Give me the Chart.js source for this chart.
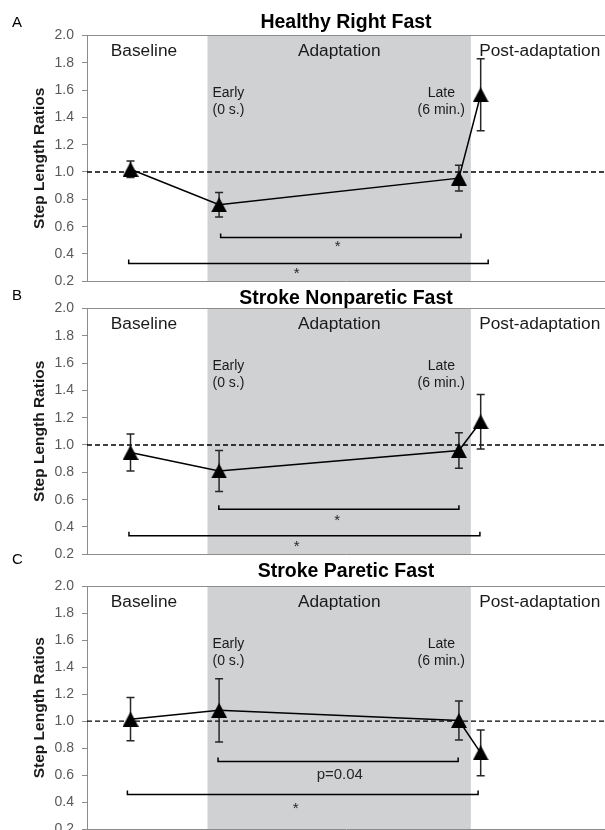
<!DOCTYPE html>
<html>
<head>
<meta charset="utf-8">
<script src="https://cdn.jsdelivr.net/npm/chart.js@4.4.0/dist/chart.umd.min.js"></script>
<style>
  html, body { margin: 0; padding: 0; background: #fff; }
  body { width: 605px; height: 830px; overflow: hidden; position: relative; }
  .panel { position: absolute; left: 0; width: 605px; height: 300px; }
  canvas { display: block; }
</style>
</head>
<body>
<div class="panel" style="top:0px"><canvas id="chartA" width="605" height="300"></canvas></div>
<div class="panel" style="top:273px"><canvas id="chartB" width="605" height="300"></canvas></div>
<div class="panel" style="top:551px"><canvas id="chartC" width="605" height="300"></canvas></div>
<script>
// ---------------- data ----------------
const panelLetters = ['A', 'B', 'C'];
const panelTitles = ['Healthy Right Fast', 'Stroke Nonparetic Fast', 'Stroke Paretic Fast'];
const yAxisTitle = 'Step Length Ratios';
const phaseLabels = ['Baseline', 'Adaptation', 'Post-adaptation'];
const phaseLabelX = [11, 48.7, 87.4];
const adaptationSpan = [23.26, 74.1];
const earlyLabel = ['Early', '(0 s.)'];
const lateLabel = ['Late', '(6 min.)'];
const earlyLabelX = 27.3;
const lateLabelX = 68.4;
const conditions = ['Baseline', 'Early', 'Late', 'Post'];
const conditionX = [8.4, 25.5, 71.8, 76.0];
const referenceRatio = 1.0;
const yMin = 0.2, yMax = 2.0, yStep = 0.2;

const healthyMean = [1.02, 0.76, 0.955, 1.565];
const healthyErr = [0.06, 0.09, 0.095, 0.263];
const nonpareticMean = [0.945, 0.81, 0.96, 1.17];
const nonpareticErr = [0.135, 0.15, 0.13, 0.2];
const pareticMean = [1.015, 1.08, 1.005, 0.765];
const pareticErr = [0.16, 0.235, 0.145, 0.17];

// brackets: [from x, to x, y]
const healthyBrackets = [[25.8, 72.2, 0.52], [8.05, 77.45, 0.33]];
const nonpareticBrackets = [[25.45, 71.8, 0.53], [8.1, 75.85, 0.335]];
const pareticBrackets = [[25.3, 71.65, 0.70], [7.8, 75.5, 0.455]];
// bracket labels: [text, x, y]
const healthyBracketLabels = [['*', 48.4, 0.48], ['*', 40.5, 0.28]];
const nonpareticBracketLabels = [['*', 48.3, 0.47], ['*', 40.5, 0.28]];
const pareticBracketLabels = [['p=0.04', 48.8, 0.61], ['*', 40.3, 0.38]];

// ---------------- drawing ----------------
const FONT = '"Liberation Sans", Arial, Helvetica, sans-serif';

const triangleMarker = (() => {
  const c = document.createElement('canvas');
  c.width = 16; c.height = 15;
  const g = c.getContext('2d');
  g.fillStyle = '#000';
  g.beginPath();
  g.moveTo(8, 0); g.lineTo(16, 15); g.lineTo(0, 15); g.closePath();
  g.fill();
  return c;
})();

const stepAnnot = {
  id: 'stepAnnot',
  beforeDraw(chart, args, o) {
    const { ctx, chartArea: a, scales: { x } } = chart;
    ctx.save();
    const x0 = x.getPixelForValue(adaptationSpan[0]);
    const x1 = x.getPixelForValue(adaptationSpan[1]);
    ctx.fillStyle = '#d0d1d3';
    ctx.fillRect(x0, a.top, x1 - x0, a.bottom - a.top);
    ctx.strokeStyle = '#8c8c8c';
    ctx.lineWidth = 1;
    const ty = Math.round(a.top) + 0.5;
    ctx.beginPath(); ctx.moveTo(a.left, ty); ctx.lineTo(a.right, ty); ctx.stroke();
    ctx.restore();
  },
  beforeDatasetsDraw(chart, args, o) {
    const { ctx, chartArea: a, scales: { x, y } } = chart;
    ctx.save();
    // reference line at 1.0
    const yr = y.getPixelForValue(referenceRatio);
    ctx.strokeStyle = '#000';
    ctx.lineWidth = 1.3;
    ctx.setLineDash([5, 3]);
    ctx.beginPath(); ctx.moveTo(a.left, yr); ctx.lineTo(a.right, yr); ctx.stroke();
    ctx.setLineDash([]);

    // error bars
    ctx.strokeStyle = '#262626';
    ctx.lineWidth = 1.5;
    conditionX.forEach((cx, i) => {
      const px = x.getPixelForValue(cx);
      const top = y.getPixelForValue(o.means[i] + o.errs[i]);
      const bot = y.getPixelForValue(o.means[i] - o.errs[i]);
      ctx.beginPath();
      ctx.moveTo(px, top); ctx.lineTo(px, bot);
      ctx.moveTo(px - 4, top); ctx.lineTo(px + 4, top);
      ctx.moveTo(px - 4, bot); ctx.lineTo(px + 4, bot);
      ctx.stroke();
    });

    // significance brackets
    ctx.strokeStyle = '#000';
    ctx.lineWidth = 1.5;
    o.brackets.forEach(([from, to, yv]) => {
      const l = x.getPixelForValue(from), r = x.getPixelForValue(to), py = y.getPixelForValue(yv);
      ctx.beginPath();
      ctx.moveTo(l, py - 4); ctx.lineTo(l, py); ctx.lineTo(r, py); ctx.lineTo(r, py - 4);
      ctx.stroke();
    });
    ctx.fillStyle = '#262626';
    ctx.textAlign = 'center';
    ctx.textBaseline = 'alphabetic';
    o.bracketLabels.forEach(([txt, lx, ly]) => {
      const px = x.getPixelForValue(lx), py = y.getPixelForValue(ly);
      ctx.font = '15px ' + FONT;
      ctx.fillText(txt, px, py + (txt === '*' ? 8 : 5.5));
    });

    // phase labels
    ctx.fillStyle = '#1a1a1a';
    ctx.font = '17.3px ' + FONT;
    phaseLabels.forEach((t, i) => {
      ctx.fillText(t, x.getPixelForValue(phaseLabelX[i]), a.top + 20.4);
    });
    ctx.font = '14px ' + FONT;
    const ex = x.getPixelForValue(earlyLabelX), lx = x.getPixelForValue(lateLabelX);
    ctx.fillText(earlyLabel[0], ex, a.top + 61.7);
    ctx.fillText(earlyLabel[1], ex, a.top + 78.4);
    ctx.fillText(lateLabel[0], lx, a.top + 61.7);
    ctx.fillText(lateLabel[1], lx, a.top + 78.4);

    // panel letter
    ctx.fillStyle = '#000';
    ctx.textAlign = 'left';
    ctx.font = '15px ' + FONT;
    ctx.fillText(o.letter, 12, o.letterBaseline);
    ctx.restore();
  }
};

function makePanel(id, idx, means, errs, brackets, bracketLabels, titlePad, bottomPad, letterBaseline) {
  return new Chart(document.getElementById(id), {
    type: 'line',
    data: {
      labels: conditions,
      datasets: [{
        label: panelTitles[idx],
        data: conditionX.map((cx, i) => ({ x: cx, y: means[i] })),
        borderColor: '#000',
        borderWidth: 1.5,
        tension: 0,
        pointStyle: triangleMarker,
        pointRadius: 8,
        pointHoverRadius: 8,
        clip: false
      }]
    },
    options: {
      responsive: false,
      animation: false,
      events: [],
      layout: { autoPadding: false, padding: { top: 0, left: 0, right: 0, bottom: bottomPad } },
      plugins: {
        legend: { display: false },
        tooltip: { enabled: false },
        title: {
          display: true,
          text: panelTitles[idx],
          fullSize: false,
          color: '#000',
          font: { family: FONT, size: 19.5, weight: 'bold', lineHeight: 1.0 },
          padding: { top: titlePad[0], bottom: titlePad[1] }
        },
        stepAnnot: {
          letter: panelLetters[idx],
          letterBaseline: letterBaseline,
          means: means, errs: errs,
          brackets: brackets, bracketLabels: bracketLabels
        }
      },
      scales: {
        x: {
          type: 'linear', min: 0, max: 100,
          display: true,
          ticks: { display: false },
          grid: { display: false, drawTicks: false },
          border: { display: true, color: '#8c8c8c', width: 1 }
        },
        y: {
          type: 'linear', min: yMin, max: yMax,
          afterFit(scale) { scale.width = 87; },
          ticks: {
            stepSize: yStep,
            color: '#595959',
            padding: 8,
            font: { family: FONT, size: 14 },
            callback: (v) => Number(v).toFixed(1)
          },
          grid: { display: true, drawOnChartArea: false, drawTicks: true, tickLength: 5, color: '#8c8c8c' },
          border: { display: true, color: '#8c8c8c', width: 1 },
          title: {
            display: true,
            text: yAxisTitle,
            color: '#1a1a1a',
            font: { family: FONT, size: 15.5, weight: 'bold' },
            padding: { top: 30, bottom: 0 }
          }
        }
      }
    },
    plugins: [stepAnnot]
  });
}

makePanel('chartA', 0, healthyMean, healthyErr, healthyBrackets, healthyBracketLabels, [12.8, 3.05], 18.7, 26.7);
makePanel('chartB', 1, nonpareticMean, nonpareticErr, nonpareticBrackets, nonpareticBracketLabels, [15.6, 0.25], 18.7, 27);
makePanel('chartC', 2, pareticMean, pareticErr, pareticBrackets, pareticBracketLabels, [11, 4.85], 22, 13);
</script>
</body>
</html>
